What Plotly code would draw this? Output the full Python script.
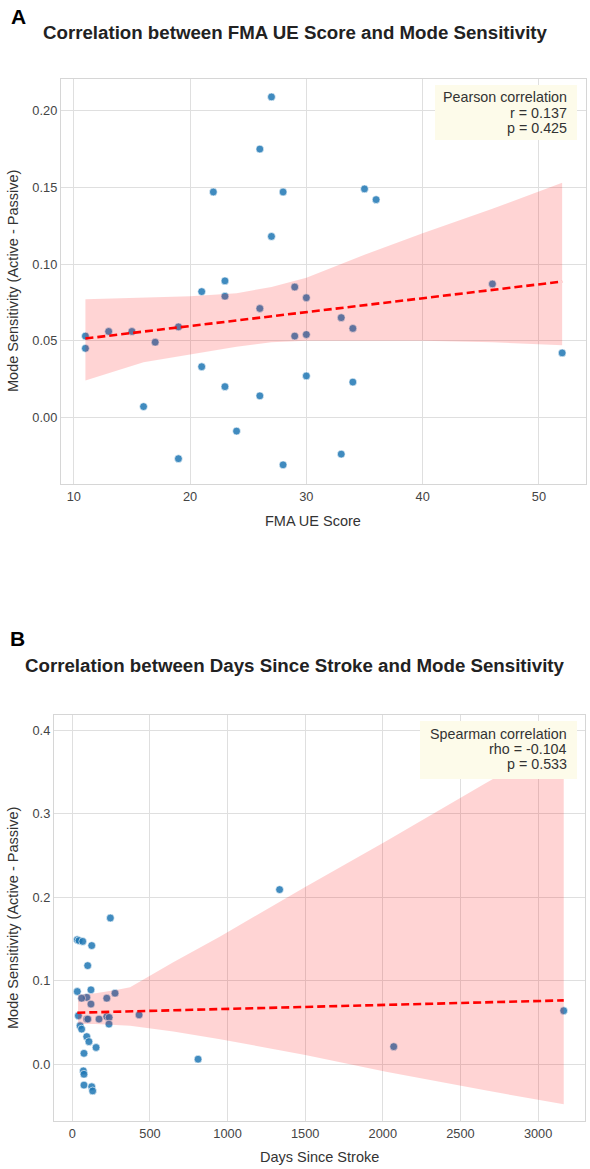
import numpy as np
import plotly.graph_objects as go

# ---------------- data ----------------
fma_score = [11, 11, 13, 15, 16, 17, 19, 19, 21, 21, 22, 23, 23, 23, 24, 26, 26, 26,
             27, 27, 28, 28, 29, 29, 30, 30, 30, 33, 33, 34, 34, 35, 36, 46, 52]
sens_a = [0.053, 0.045, 0.056, 0.056, 0.007, 0.049, 0.059, -0.027, 0.082, 0.033,
          0.147, 0.089, 0.079, 0.020, -0.009, 0.175, 0.071, 0.014, 0.209, 0.118,
          0.147, -0.031, 0.085, 0.053, 0.078, 0.054, 0.027, 0.065, -0.024, 0.058,
          0.023, 0.149, 0.142, 0.087, 0.042]

days_since = [1335, 245, 32, 43, 67, 125, 99, 32, 120, 275, 222, 93, 60, 120, 430, 39,
              93, 100, 172, 222, 237, 236, 50, 60, 93, 107, 153, 75, 810, 71, 75, 75,
              125, 131, 2070, 3165]
sens_b = [0.209, 0.175, 0.149, 0.148, 0.147, 0.142, 0.118, 0.087, 0.089, 0.085, 0.079,
          0.080, 0.079, 0.072, 0.059, 0.058, 0.054, 0.054, 0.054, 0.057, 0.056, 0.048,
          0.046, 0.042, 0.033, 0.027, 0.020, 0.013, 0.006, -0.008, -0.012, -0.025,
          -0.027, -0.032, 0.021, 0.064]

# confidence bands
band_a_x = [11, 16, 20, 24, 27, 30, 35, 40, 46, 52]
band_a_hi = [0.077, 0.078, 0.079, 0.081, 0.085, 0.091, 0.106, 0.120, 0.136, 0.153]
band_a_lo = [0.024, 0.036, 0.041, 0.046, 0.049, 0.050, 0.050, 0.050, 0.049, 0.047]

band_b_x = [37, 150, 290, 372, 650, 952, 1500, 2020, 2650, 3165]
band_b_hi = [0.083, 0.085, 0.089, 0.092, 0.122, 0.153, 0.212, 0.267, 0.335, 0.390]
band_b_lo = [0.048, 0.048, 0.047, 0.046, 0.039, 0.030, 0.011, -0.009, -0.031, -0.048]

stats_a = ["Pearson correlation", "r = 0.137", "p = 0.425"]
stats_b = ["Spearman correlation", "rho = -0.104", "p = 0.533"]

title_a = "Correlation between FMA UE Score and Mode Sensitivity"
title_b = "Correlation between Days Since Stroke and Mode Sensitivity"
ylab = "Mode Sensitivity (Active - Passive)"

# ---------------- layout helpers ----------------
W, H = 590, 1169
def px(x):
    return x / W
def py(y):
    return 1 - y / H

FONT = "Liberation Sans, Arial, sans-serif"
PT_COLOR = "rgba(31,119,180,0.85)"
BAND_COLOR = "rgba(255,0,0,0.17)"

fig = go.Figure()

def add_panel(xs, ys, bx, bhi, blo, xa, ya):
    xs = np.asarray(xs, float)
    ys = np.asarray(ys, float)
    fig.add_trace(go.Scatter(
        x=xs, y=ys, mode="markers", xaxis=xa, yaxis=ya,
        marker=dict(size=7.8, color=PT_COLOR, line=dict(color="white", width=0.6)),
        showlegend=False, hoverinfo="skip"))
    fig.add_trace(go.Scatter(
        x=list(bx) + list(bx)[::-1], y=list(bhi) + list(blo)[::-1],
        fill="toself", fillcolor=BAND_COLOR, line=dict(width=0),
        mode="lines", xaxis=xa, yaxis=ya, showlegend=False, hoverinfo="skip"))
    slope, icpt = np.polyfit(xs, ys, 1)
    lx = np.array([xs.min(), xs.max()])
    fig.add_trace(go.Scatter(
        x=lx, y=slope * lx + icpt, mode="lines", xaxis=xa, yaxis=ya,
        line=dict(color="red", width=2.6, dash="8px,4px"),
        showlegend=False, hoverinfo="skip"))

add_panel(fma_score, sens_a, band_a_x, band_a_hi, band_a_lo, "x", "y")
add_panel(days_since, sens_b, band_b_x, band_b_hi, band_b_lo, "x2", "y2")

axis_common = dict(
    showgrid=True, gridcolor="#dfdfdf", gridwidth=1.2,
    showline=True, linecolor="#d6d6d6", linewidth=1.3, mirror=True,
    zeroline=False, ticks="", tickfont=dict(family=FONT, size=12.8, color="#444"),
)

fig.update_layout(
    width=W, height=H, margin=dict(l=0, r=0, t=0, b=0),
    paper_bgcolor="white", plot_bgcolor="white",
    xaxis=dict(domain=[px(61), px(586)], range=[8.9, 54.05],
               tickvals=[10, 20, 30, 40, 50], anchor="y", **axis_common),
    yaxis=dict(domain=[py(484), py(79)], range=[-0.0435, 0.2207],
               tickvals=[0.0, 0.05, 0.10, 0.15, 0.20], tickformat=".2f",
               anchor="x", **axis_common),
    xaxis2=dict(domain=[px(54), px(585)], range=[-118, 3302],
                tickvals=[0, 500, 1000, 1500, 2000, 2500, 3000], anchor="y2",
                **axis_common),
    yaxis2=dict(domain=[py(1121), py(715)], range=[-0.068, 0.418],
                tickvals=[0.0, 0.1, 0.2, 0.3, 0.4], tickformat=".1f",
                anchor="x2", **axis_common),
)

ann = []
def text(x, y, s, size, bold=False, color="#333", xanchor="center", angle=0):
    ann.append(dict(x=px(x), y=py(y), xref="paper", yref="paper", text=s,
                    showarrow=False, xanchor=xanchor, yanchor="middle",
                    textangle=angle,
                    font=dict(family=FONT, size=size, color=color)))

# panel labels and titles
text(9, 16, "<b>A</b>", 21, color="#000", xanchor="left")
text(295, 33, "<b>" + title_a + "</b>", 18.7, color="#222")
text(8, 638, "<b>B</b>", 21, color="#000", xanchor="left")
text(295, 665, "<b>" + title_b + "</b>", 18.7, color="#222")

# axis titles
text(313, 521, "FMA UE Score", 14.5, color="#333")
text(13, 281, ylab, 14.5, color="#333", angle=-90)
text(319, 1157, "Days Since Stroke", 14.5, color="#333")
text(13, 918, ylab, 14.5, color="#333", angle=-90)

# stats boxes
shapes = [
    dict(type="rect", xref="paper", yref="paper", x0=px(435), x1=px(577),
         y0=py(140), y1=py(85), fillcolor="#fdfbea", line=dict(width=0), layer="above"),
    dict(type="rect", xref="paper", yref="paper", x0=px(420), x1=px(577),
         y0=py(779), y1=py(721), fillcolor="#fdfbea", line=dict(width=0), layer="above"),
]
for s, yy in zip(stats_a, [97, 112.5, 128]):
    text(569, yy, s, 14.3, color="#333", xanchor="right")
for s, yy in zip(stats_b, [733.5, 749, 764.5]):
    text(569, yy, s, 14.3, color="#333", xanchor="right")

fig.update_layout(annotations=ann, shapes=shapes)
fig.write_html("out.html")
